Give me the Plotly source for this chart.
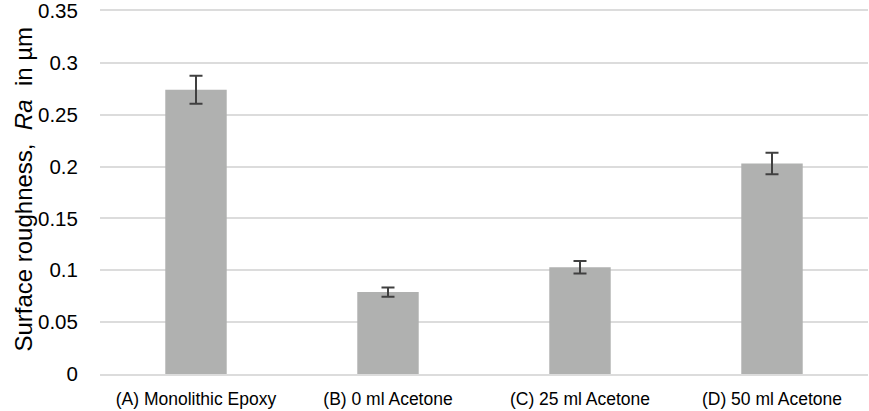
import plotly.graph_objects as go

categories = ["(A) Monolithic Epoxy", "(B) 0 ml Acetone", "(C) 25 ml Acetone", "(D) 50 ml Acetone"]
ra_values = [0.274, 0.079, 0.103, 0.203]
ra_errors = [0.0135, 0.0045, 0.006, 0.0103]
y_ticks = [0, 0.05, 0.1, 0.15, 0.2, 0.25, 0.3, 0.35]
y_tick_labels = ["0", "0.05", "0.1", "0.15", "0.2", "0.25", "0.3", "0.35"]

GRID = "#dcdcdc"

fig = go.Figure(
    go.Bar(
        x=categories,
        y=ra_values,
        marker=dict(color="#b0b1b0", line=dict(width=0)),
        width=0.32,
        error_y=dict(type="data", array=ra_errors, visible=True,
                     color="#404040", thickness=2, width=6.5),
    )
)

fig.update_layout(
    width=869, height=411,
    margin=dict(l=100, r=1, t=11, b=37),
    paper_bgcolor="white", plot_bgcolor="white",
    showlegend=False,
    font=dict(family="Liberation Sans, Arial, sans-serif", color="#000000"),
    xaxis=dict(
        showgrid=False, zeroline=False, automargin=False,
        showline=True, mirror=True, linecolor=GRID, linewidth=2,
        tickfont=dict(family="Liberation Sans, Arial, sans-serif", size=17.5, color="#000000"),
        ticks="outside", ticklen=8, tickcolor="rgba(0,0,0,0)",
        ticklabeloverflow="allow",
    ),
    yaxis=dict(
        range=[0, 0.35], automargin=False,
        tickvals=y_ticks, ticktext=y_tick_labels,
        showgrid=True, gridcolor=GRID, gridwidth=2,
        zeroline=False, showline=False,
        tickfont=dict(size=20.5, color="#000000"),
        ticks="outside", ticklen=17, tickcolor="rgba(0,0,0,0)",
        ticklabeloverflow="allow",
    ),
    annotations=[dict(
        text="Surface roughness,  <i>Ra</i>  in µm",
        xref="paper", yref="paper", x=(24 - 100) / 768, y=0.508,
        xanchor="center", yanchor="middle", textangle=-90, showarrow=False,
        font=dict(size=24, color="#000000"),
    )],
)

fig.write_html("out.html", config={"displayModeBar": False},
               post_script="document.body.style.margin='0';")
